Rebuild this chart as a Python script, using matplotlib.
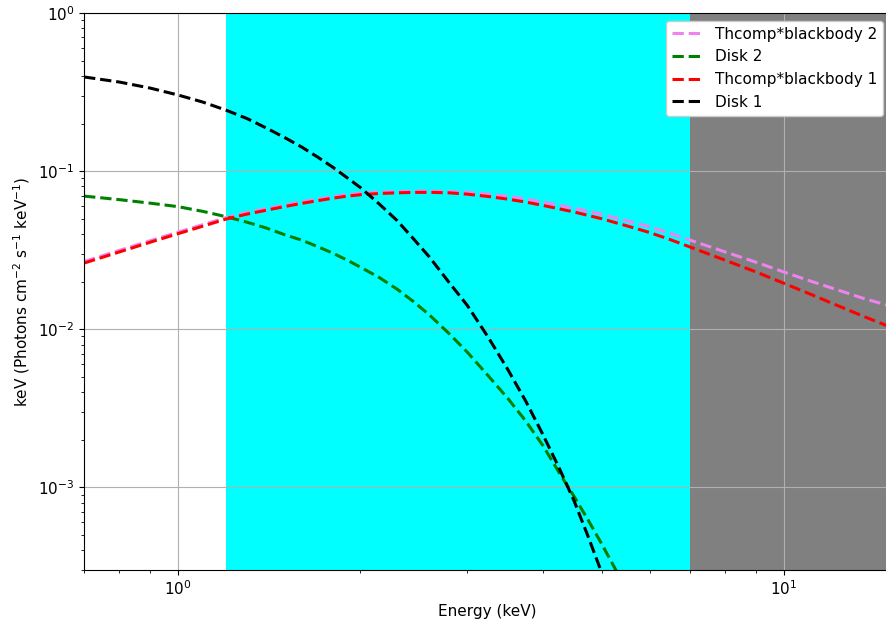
import matplotlib
matplotlib.use("Agg")
import matplotlib.pyplot as plt

# Energies (keV) at which the Thcomp curves were read
energy = [0.7, 0.8, 0.9, 1.0, 1.1, 1.2, 1.3, 1.4, 1.5, 1.6, 1.7, 1.8, 1.9,
          2.0, 2.15, 2.3, 2.45, 2.6, 2.8, 3.0, 3.25, 3.5, 3.75, 4.0, 4.5,
          5.0, 5.5, 6.0, 6.5, 7.0, 8.0, 9.0, 10.0, 11.0, 12.0, 13.5, 15.0]

thcomp2 = [0.0268, 0.0315, 0.0363, 0.0411, 0.0459, 0.0508, 0.0547, 0.0578,
           0.0610, 0.0639, 0.0664, 0.0689, 0.0709, 0.0724, 0.0736, 0.0742,
           0.0746, 0.0747, 0.0742, 0.0734, 0.0714, 0.0692, 0.0666, 0.0637,
           0.0583, 0.0533, 0.0485, 0.0445, 0.0403, 0.0366, 0.0308, 0.0265,
           0.0230, 0.0203, 0.0182, 0.0157, 0.0140]
thcomp1 = [0.0262, 0.0308, 0.0355, 0.0402, 0.0449, 0.0497, 0.0535, 0.0566,
           0.0597, 0.0625, 0.0650, 0.0674, 0.0694, 0.0709, 0.0722, 0.0729,
           0.0733, 0.0734, 0.0729, 0.0715, 0.0691, 0.0665, 0.0637, 0.0607,
           0.0552, 0.0500, 0.0451, 0.0409, 0.0368, 0.0331, 0.0273, 0.0230,
           0.0195, 0.0168, 0.0146, 0.0121, 0.0103]

# Energies (keV) at which the disk curves were read
disk_energy = [0.7, 0.8, 0.9, 1.0, 1.1, 1.2, 1.3, 1.4, 1.5, 1.6, 1.7, 1.8,
               1.9, 2.0, 2.15, 2.3, 2.45, 2.6, 2.8, 3.0, 3.25, 3.5, 3.75,
               4.0, 4.25, 4.5, 4.75, 5.0, 5.25, 5.5]
disk2 = [0.0695, 0.0660, 0.0627, 0.0596, 0.0556, 0.0515, 0.0475, 0.0436,
         0.0396, 0.0366, 0.0333, 0.0303, 0.0274, 0.0247, 0.0212, 0.0179,
         0.0149, 0.0123, 9.40e-3, 7.18e-3, 5.08e-3, 3.66e-3, 2.62e-3,
         1.84e-3, 1.25e-3, 8.81e-4, 6.22e-4, 4.40e-4, 3.12e-4, 2.21e-4]
disk1 = [0.394, 0.366, 0.335, 0.303, 0.273, 0.243, 0.215, 0.187, 0.163,
         0.142, 0.1227, 0.106, 0.0910, 0.0787, 0.0618, 0.0486, 0.0371,
         0.0286, 0.0198, 0.0142, 8.90e-3, 5.58e-3, 3.50e-3, 2.16e-3,
         1.34e-3, 8.28e-4, 4.90e-4, 2.90e-4, 1.71e-4, 1.03e-4]

band_soft = (1.2, 7.0)
band_hard = (7.0, 15.0)

fig = plt.figure(figsize=(8.87, 6.2), dpi=100)
ax = fig.add_axes([84.1 / 887, 50 / 620, (890.7 - 84.1) / 887, (570 - 13) / 620])

ax.axvspan(*band_soft, color="cyan", lw=0)
ax.axvspan(*band_hard, color="gray", lw=0)

lw = 2.2
ax.plot(energy, thcomp2, "--", color="violet", lw=lw, label="Thcomp*blackbody 2")
ax.plot(disk_energy, disk2, "--", color="green", lw=lw, label="Disk 2")
ax.plot(energy, thcomp1, "--", color="red", lw=lw, label="Thcomp*blackbody 1")
ax.plot(disk_energy, disk1, "--", color="black", lw=lw, label="Disk 1")

ax.set_xscale("log")
ax.set_yscale("log")
ax.set_xlim(0.7, 15)
ax.set_ylim(3e-4, 1)
ax.grid(True, which="major", color="#b0b0b0", lw=0.8)
ax.tick_params(labelsize=11)
ax.set_xlabel("Energy (keV)", fontsize=11)
ax.set_ylabel(r"keV (Photons cm$^{-2}$ s$^{-1}$ keV$^{-1}$)", fontsize=11)
ax.legend(loc="upper right", fontsize=11, framealpha=1)

fig.savefig("out.png", dpi=100)
